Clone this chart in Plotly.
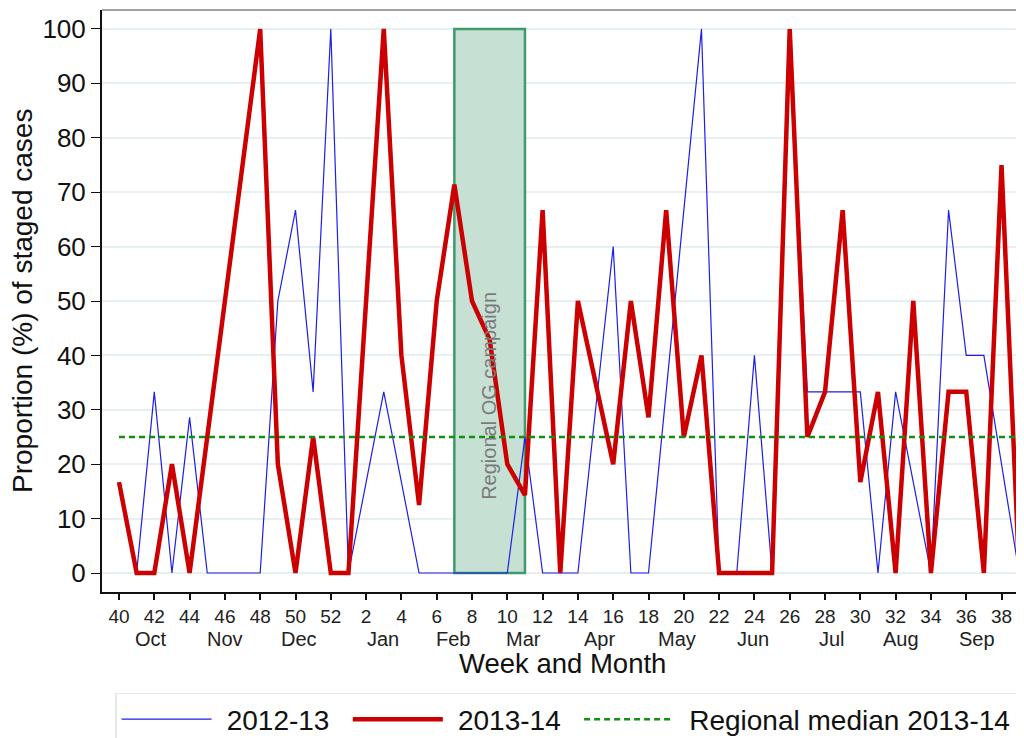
import plotly.graph_objects as go

# ---- data ----
weeks = [40, 41, 42, 43, 44, 45, 46, 47, 48, 49, 50, 51, 52,
         1, 2, 3, 4, 5, 6, 7, 8, 9, 10, 11, 12, 13, 14, 15, 16, 17, 18, 19, 20,
         21, 22, 23, 24, 25, 26, 27, 28, 29, 30, 31, 32, 33, 34, 35, 36, 37, 38, 39]

series_2012_13 = [None, 0, 33.3, 0, 28.6, 0, 0, 0, 0, 50, 66.7, 33.3, 100,
                  0, 16.7, 33.3, 16.7, 0, 0, 0, 0, 0, 0, 25, 0, 0, 0, 30, 60, 0, 0, 33.3, 66.7,
                  100, 0, 0, 40, 0, 100, 33.3, 33.3, 33.3, 33.3, 0, 33.3, 16.7, 0, 66.7, 40, 40, 20, 0]

series_2013_14 = [16.7, 0, 0, 20, 0, 25, 50, 75, 100, 20, 0, 25, 0,
                  0, 50, 100, 40, 12.5, 50, 71.4, 50, 42.9, 20, 14.3, 66.7, 0, 50, 35, 20, 50, 28.6, 66.7, 25,
                  40, 0, 0, 0, 0, 100, 25, 33.3, 66.7, 16.7, 33.3, 0, 50, 0, 33.3, 33.3, 0, 75, 0]

regional_median = 25

months = ["Oct", "Nov", "Dec", "Jan", "Feb", "Mar", "Apr", "May", "Jun", "Jul", "Aug", "Sep"]
month_pos = [1.8, 6.0, 10.2, 14.95, 18.9, 22.9, 27.2, 31.6, 35.9, 40.4, 44.3, 48.6]

campaign_start_week = 7
campaign_end_week = 11
campaign_label = "Regional OG campaign"

y_ticks = list(range(0, 101, 10))

# ---- derived ----
idx = list(range(len(weeks)))
tick_idx = idx[::2]
tick_txt = [str(w) for w in weeks[::2]]
cs = weeks.index(campaign_start_week, 13)
ce = weeks.index(campaign_end_week, 13)

FONT = "Liberation Sans, Arial, sans-serif"
LEAD = "\u00a0\u200a"
TRAIL = "\u00a0\u2009"

fig = go.Figure()

fig.add_trace(go.Scatter(x=idx, y=series_2012_13, mode="lines", name=LEAD + "2012-13" + TRAIL,
                         line=dict(color="rgb(30,30,230)", width=1.2), connectgaps=False))
fig.add_trace(go.Scatter(x=idx, y=series_2013_14, mode="lines", name=LEAD + "2013-14" + TRAIL,
                         line=dict(color="#cc0000", width=4.5)))
fig.add_trace(go.Scatter(x=[idx[0], idx[-1]], y=[regional_median, regional_median], mode="lines",
                         name=LEAD + "Regional median 2013-14",
                         line=dict(color="#119011", width=2.5, dash="6px,4px")))

# campaign box
fig.add_shape(type="rect", xref="x", yref="y", x0=cs, x1=ce, y0=0, y1=100,
              fillcolor="#c6e0d4", line=dict(color="#3f9a6c", width=2.5), layer="between")
fig.add_annotation(x=(cs + ce) / 2, y=32.5, xref="x", yref="y", text=campaign_label,
                   textangle=-90, showarrow=False, font=dict(family=FONT, size=20, color="#7a7a7a"))

# frame top/right
fig.add_shape(type="line", xref="paper", yref="paper", x0=0, x1=1, y0=1, y1=1,
              line=dict(color="#444", width=1), layer="above")
fig.add_shape(type="line", xref="paper", yref="paper", x0=1, x1=1, y0=0, y1=1,
              line=dict(color="#444", width=1), layer="above")

# month labels
for m, p in zip(months, month_pos):
    fig.add_annotation(x=p, y=0, xref="x", yref="paper", text=m, showarrow=False,
                       yshift=-47, yanchor="middle", font=dict(family=FONT, size=20, color="#222"))

# axis titles
fig.add_annotation(x=0.5, y=0, xref="paper", yref="paper", text="Week and Month", showarrow=False,
                   yshift=-71, yanchor="middle", font=dict(family=FONT, size=27.5, color="#111"))
fig.add_annotation(x=0, y=0.5, xref="paper", yref="paper", text="Proportion (%) of staged cases",
                   showarrow=False, xshift=-80, xanchor="center", textangle=-90,
                   font=dict(family=FONT, size=28, color="#111"))

fig.update_layout(
    width=1016, height=730,
    margin=dict(l=94, r=2, t=2, b=146, autoexpand=False),
    paper_bgcolor="white", plot_bgcolor="white",
    font=dict(family=FONT, color="#111"),
    showlegend=True,
    legend=dict(orientation="h", x=0.0142, xanchor="left", y=-0.1735, yanchor="top",
                font=dict(family=FONT, size=28, color="#111"),
                bordercolor="#e4eaec", borderwidth=1.5, bgcolor="white",
                itemwidth=90, tracegroupgap=0),
    xaxis=dict(range=[-0.963, 51.16], tickmode="array", tickvals=tick_idx, ticktext=tick_txt,
               ticks="outside", ticklen=6, tickwidth=1.5, tickcolor="#111",
               showline=True, linecolor="#111", linewidth=2, showgrid=False, zeroline=False,
               tickfont=dict(family=FONT, size=19, color="#222"), automargin=False),
    yaxis=dict(range=[-3.49, 103.49], tickmode="array", tickvals=y_ticks,
               ticks="outside", ticklen=9, tickwidth=1.2, tickcolor="#111",
               showline=True, linecolor="#111", linewidth=2,
               showgrid=True, gridcolor="#e6eff1", gridwidth=2, zeroline=False,
               tickfont=dict(family=FONT, size=26, color="#111"), automargin=False),
)

fig.write_html("out.html")
